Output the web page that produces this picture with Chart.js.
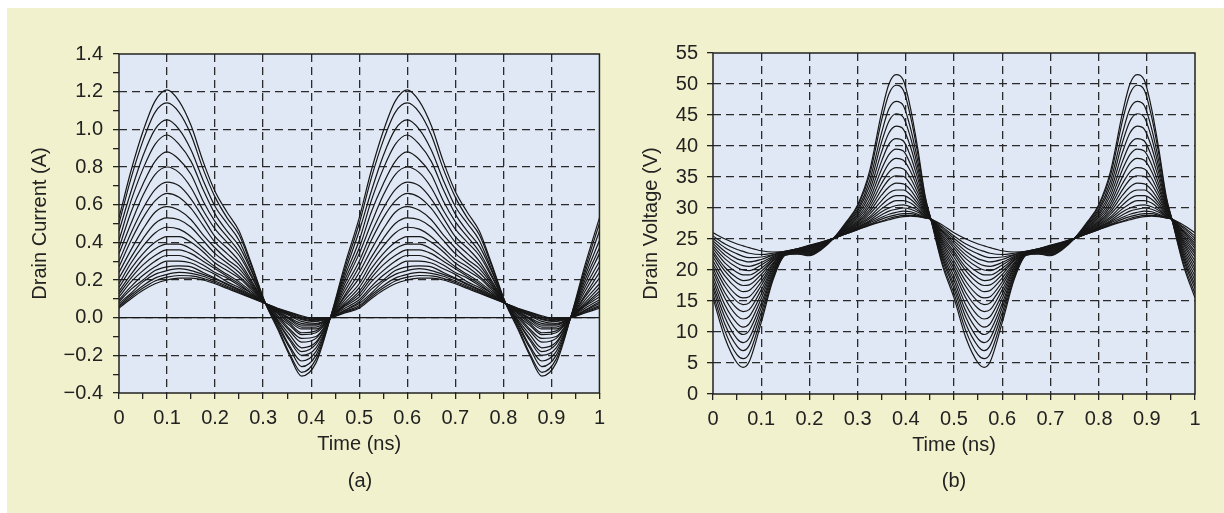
<!DOCTYPE html>
<html>
<head>
<meta charset="utf-8">
<title>Drain current and drain voltage</title>
<script src="https://cdn.jsdelivr.net/npm/chart.js@4"></script>
<style>
  body { margin: 0; width: 1224px; height: 513px; background: #fff; position: relative; overflow: hidden;
         font-family: "Liberation Sans", Arial, sans-serif; }
  .bg { position: absolute; left: 7px; top: 8px; width: 1217px; height: 505px; background: #f1f1cd; }
  .panel { position: absolute; top: 0; width: 612px; height: 513px; }
  .caption { position: absolute; top: 468px; width: 100px; text-align: center; font-size: 20px;
             line-height: 24px; color: #222; }
</style>
</head>
<body>
<div class="bg"></div>
<div class="panel" style="left:0"><canvas id="chartA" width="612" height="513"></canvas></div>
<div class="panel" style="left:612px"><canvas id="chartB" width="612" height="513"></canvas></div>
<div class="caption" style="left:310px">(a)</div>
<div class="caption" style="left:904px">(b)</div>
<script>
// time axis (ns), shared tick labels
const xTickValues = [0, 0.1, 0.2, 0.3, 0.4, 0.5, 0.6, 0.7, 0.8, 0.9, 1];
const xTickLabels = ["0", "0.1", "0.2", "0.3", "0.4", "0.5", "0.6", "0.7", "0.8", "0.9", "1"];

// (a) drain current
const yTickValuesA = [-0.4, -0.2, 0, 0.2, 0.4, 0.6, 0.8, 1.0, 1.2, 1.4];
const yTickLabelsA = ["\u22120.4", "\u22120.2", "0.0", "0.2", "0.4", "0.6", "0.8", "1.0", "1.2", "1.4"];

// sample times over the whole 0..1 ns window (two periods + end point)
const timesA = [0, 0.025, 0.05, 0.075, 0.1, 0.125, 0.15, 0.175, 0.2, 0.225, 0.25, 0.275, 0.305, 0.33, 0.355, 0.38, 0.41, 0.44, 0.47,
  0.5, 0.525, 0.55, 0.575, 0.6, 0.625, 0.65, 0.675, 0.7, 0.725, 0.75, 0.775, 0.805, 0.83, 0.855, 0.88, 0.91, 0.94, 0.97, 1];

// one 0.5 ns period per trace (A), largest drive first; the waveform is steady state
// so the second period repeats the first
const currentA = [
  [0.53, 0.78, 0.99, 1.15, 1.21, 1.15, 1.02, 0.83, 0.67, 0.56, 0.46, 0.29, 0.075, -0.06, -0.20, -0.31, -0.24, 0, 0.28],
  [0.50, 0.74, 0.94, 1.09, 1.14, 1.09, 0.97, 0.79, 0.64, 0.53, 0.44, 0.28, 0.075, -0.05, -0.19, -0.29, -0.22, 0, 0.26],
  [0.46, 0.67, 0.86, 1.00, 1.05, 1.00, 0.89, 0.73, 0.59, 0.50, 0.41, 0.26, 0.075, -0.04, -0.16, -0.26, -0.20, 0, 0.24],
  [0.41, 0.62, 0.79, 0.92, 0.97, 0.92, 0.83, 0.68, 0.55, 0.46, 0.38, 0.25, 0.075, -0.03, -0.15, -0.23, -0.18, 0, 0.22],
  [0.37, 0.56, 0.71, 0.83, 0.88, 0.84, 0.76, 0.62, 0.51, 0.43, 0.35, 0.23, 0.075, -0.02, -0.12, -0.20, -0.16, 0, 0.20],
  [0.34, 0.50, 0.65, 0.76, 0.80, 0.77, 0.69, 0.57, 0.47, 0.40, 0.33, 0.22, 0.075, -0.02, -0.11, -0.18, -0.14, 0, 0.18],
  [0.30, 0.45, 0.58, 0.68, 0.72, 0.70, 0.63, 0.53, 0.43, 0.37, 0.30, 0.20, 0.075, -0.01, -0.09, -0.16, -0.13, 0, 0.16],
  [0.27, 0.41, 0.53, 0.62, 0.66, 0.64, 0.58, 0.49, 0.40, 0.34, 0.28, 0.19, 0.075, 0.00, -0.07, -0.13, -0.11, 0, 0.14],
  [0.24, 0.36, 0.47, 0.56, 0.59, 0.57, 0.52, 0.44, 0.37, 0.31, 0.26, 0.18, 0.075, 0.01, -0.06, -0.11, -0.10, 0, 0.12],
  [0.21, 0.32, 0.42, 0.50, 0.53, 0.52, 0.48, 0.41, 0.34, 0.29, 0.24, 0.17, 0.075, 0.01, -0.04, -0.09, -0.08, 0, 0.11],
  [0.18, 0.29, 0.38, 0.45, 0.48, 0.47, 0.43, 0.37, 0.31, 0.27, 0.22, 0.16, 0.075, 0.02, -0.03, -0.08, -0.07, 0, 0.095],
  [0.16, 0.26, 0.34, 0.40, 0.43, 0.43, 0.40, 0.35, 0.29, 0.25, 0.21, 0.15, 0.075, 0.025, -0.02, -0.06, -0.06, 0, 0.08],
  [0.14, 0.23, 0.31, 0.365, 0.39, 0.39, 0.365, 0.32, 0.27, 0.23, 0.19, 0.14, 0.075, 0.03, -0.01, -0.05, -0.05, 0, 0.07],
  [0.125, 0.21, 0.28, 0.33, 0.36, 0.36, 0.34, 0.30, 0.26, 0.22, 0.18, 0.13, 0.075, 0.03, -0.005, -0.04, -0.04, 0, 0.065],
  [0.11, 0.19, 0.25, 0.30, 0.33, 0.33, 0.31, 0.28, 0.24, 0.21, 0.17, 0.13, 0.075, 0.035, 0.0, -0.03, -0.035, 0, 0.06],
  [0.095, 0.165, 0.225, 0.27, 0.30, 0.30, 0.29, 0.26, 0.23, 0.19, 0.16, 0.12, 0.075, 0.04, 0.01, -0.02, -0.03, 0, 0.05],
  [0.085, 0.15, 0.20, 0.25, 0.27, 0.275, 0.27, 0.24, 0.21, 0.18, 0.15, 0.12, 0.075, 0.04, 0.015, -0.01, -0.02, 0, 0.04],
  [0.075, 0.13, 0.19, 0.23, 0.25, 0.26, 0.25, 0.23, 0.205, 0.175, 0.145, 0.115, 0.075, 0.044, 0.018, -0.006, -0.017, 0, 0.038],
  [0.064, 0.12, 0.17, 0.21, 0.23, 0.24, 0.235, 0.22, 0.195, 0.167, 0.14, 0.111, 0.075, 0.047, 0.023, 0.0, -0.012, 0, 0.033],
  [0.057, 0.11, 0.157, 0.195, 0.215, 0.224, 0.222, 0.209, 0.187, 0.161, 0.135, 0.108, 0.075, 0.048, 0.027, 0.005, -0.009, 0, 0.029],
  [0.05, 0.10, 0.145, 0.18, 0.20, 0.21, 0.21, 0.20, 0.18, 0.155, 0.13, 0.105, 0.075, 0.05, 0.03, 0.01, -0.005, 0, 0.025]
];
// the flat 0 A trace
const zeroTimes = [0, 1];
const zeroCurrent = [0, 0];

// (b) drain voltage
const yTickValuesB = [0, 5, 10, 15, 20, 25, 30, 35, 40, 45, 50, 55];
const yTickLabelsB = ["0", "5", "10", "15", "20", "25", "30", "35", "40", "45", "50", "55"];

const timesB = [0, 0.025, 0.05, 0.0625, 0.075, 0.1, 0.125, 0.15, 0.175, 0.2, 0.225, 0.25, 0.275, 0.3, 0.325, 0.35, 0.365, 0.38, 0.395, 0.41, 0.425, 0.44, 0.452, 0.475,
  0.5, 0.525, 0.55, 0.5625, 0.575, 0.6, 0.625, 0.65, 0.675, 0.7, 0.725, 0.75, 0.775, 0.8, 0.825, 0.85, 0.865, 0.88, 0.895, 0.91, 0.925, 0.94, 0.952, 0.975, 1];

// one period per trace (V), largest drive first
const voltageB = [
  [15.5, 9.0, 5.0, 4.3, 5.2, 11.5, 18.5, 22.4, 22.6, 22.3, 23.3, 25.1, 27.6, 30.5, 36.0, 45.5, 50.0, 51.5, 50.6, 46.0, 39.5, 32.0, 28.2, 21.0],
  [16.2, 10.1, 6.3, 5.7, 6.5, 12.3, 18.8, 22.4, 22.6, 22.4, 23.4, 25.1, 27.4, 30.2, 35.3, 44.2, 48.4, 49.8, 49.0, 44.7, 38.7, 31.7, 28.2, 21.4],
  [17.0, 11.2, 7.7, 7.0, 7.8, 13.1, 19.1, 22.5, 22.7, 22.5, 23.5, 25.1, 27.3, 29.8, 34.4, 42.2, 46.0, 47.2, 46.5, 42.8, 37.5, 31.3, 28.2, 21.9],
  [17.6, 12.3, 8.9, 8.3, 9.0, 13.9, 19.4, 22.5, 22.8, 22.6, 23.6, 25.1, 27.1, 29.5, 33.6, 40.7, 44.0, 45.2, 44.6, 41.3, 36.5, 31.0, 28.2, 22.3],
  [18.3, 13.3, 10.2, 9.6, 10.2, 14.6, 19.7, 22.6, 22.9, 22.7, 23.7, 25.1, 27.0, 29.1, 32.8, 39.1, 42.1, 43.2, 42.7, 39.8, 35.6, 30.7, 28.2, 22.7],
  [19.0, 14.3, 11.4, 10.8, 11.3, 15.4, 20.0, 22.6, 22.9, 22.8, 23.8, 25.1, 26.8, 28.8, 32.1, 37.6, 40.3, 41.2, 40.8, 38.3, 34.7, 30.4, 28.2, 23.1],
  [19.7, 15.4, 12.6, 12.1, 12.5, 16.1, 20.3, 22.6, 23.0, 22.9, 23.9, 25.1, 26.7, 28.5, 31.4, 36.3, 38.6, 39.5, 39.2, 37.0, 33.8, 30.1, 28.2, 23.5],
  [20.3, 16.3, 13.8, 13.3, 13.6, 16.8, 20.5, 22.7, 23.0, 23.0, 24.0, 25.1, 26.6, 28.2, 30.8, 35.1, 37.2, 38.0, 37.7, 35.9, 33.1, 29.9, 28.2, 23.9],
  [20.9, 17.3, 14.9, 14.4, 14.7, 17.5, 20.8, 22.7, 23.1, 23.1, 24.0, 25.1, 26.5, 27.9, 30.3, 34.0, 35.8, 36.5, 36.3, 34.8, 32.4, 29.7, 28.2, 24.3],
  [21.5, 18.1, 15.9, 15.5, 15.7, 18.1, 21.0, 22.7, 23.1, 23.2, 24.1, 25.1, 26.4, 27.7, 29.8, 33.0, 34.6, 35.2, 35.1, 33.8, 31.8, 29.5, 28.2, 24.6],
  [22.1, 19.0, 17.0, 16.5, 16.7, 18.7, 21.2, 22.8, 23.2, 23.3, 24.1, 25.1, 26.3, 27.5, 29.4, 32.1, 33.4, 34.0, 33.9, 32.9, 31.2, 29.3, 28.2, 24.9],
  [22.6, 19.8, 17.9, 17.5, 17.6, 19.3, 21.5, 22.8, 23.2, 23.4, 24.2, 25.1, 26.2, 27.3, 29.0, 31.2, 32.4, 32.9, 32.9, 32.1, 30.7, 29.1, 28.2, 25.2],
  [23.0, 20.4, 18.7, 18.3, 18.4, 19.8, 21.6, 22.8, 23.3, 23.5, 24.3, 25.1, 26.1, 27.2, 28.6, 30.5, 31.5, 32.0, 32.0, 31.4, 30.3, 29.0, 28.2, 25.5],
  [23.5, 21.1, 19.6, 19.2, 19.2, 20.3, 21.8, 22.9, 23.3, 23.6, 24.3, 25.1, 26.0, 27.0, 28.3, 29.9, 30.7, 31.2, 31.2, 30.8, 29.9, 28.8, 28.2, 25.8],
  [23.9, 21.8, 20.4, 20.0, 19.9, 20.8, 22.0, 22.9, 23.3, 23.7, 24.3, 25.1, 26.0, 26.9, 28.0, 29.4, 30.0, 30.4, 30.5, 30.2, 29.6, 28.7, 28.2, 26.1],
  [24.3, 22.4, 21.1, 20.7, 20.6, 21.2, 22.2, 22.9, 23.3, 23.8, 24.4, 25.1, 25.9, 26.8, 27.8, 28.9, 29.5, 29.8, 30.0, 29.8, 29.3, 28.6, 28.2, 26.3],
  [24.7, 23.0, 21.8, 21.5, 21.3, 21.7, 22.4, 22.9, 23.3, 23.8, 24.4, 25.1, 25.9, 26.7, 27.6, 28.5, 29.0, 29.3, 29.5, 29.4, 29.0, 28.5, 28.2, 26.5],
  [25.1, 23.6, 22.6, 22.2, 22.0, 22.1, 22.5, 23.0, 23.4, 23.9, 24.4, 25.1, 25.8, 26.6, 27.4, 28.2, 28.6, 28.9, 29.1, 29.1, 28.8, 28.5, 28.2, 26.8],
  [25.5, 24.2, 23.3, 23.0, 22.7, 22.5, 22.7, 23.0, 23.4, 23.9, 24.5, 25.1, 25.8, 26.5, 27.3, 27.9, 28.3, 28.6, 28.8, 28.8, 28.7, 28.4, 28.2, 27.0],
  [26.0, 25.0, 24.2, 23.9, 23.6, 23.1, 22.9, 23.0, 23.4, 24.0, 24.5, 25.1, 25.8, 26.5, 27.2, 27.8, 28.1, 28.4, 28.6, 28.7, 28.6, 28.4, 28.2, 27.3]
];

const FONT = "'Liberation Sans', Arial, sans-serif";
const TEXT = "#222";
const LINE = "#171717";
const GRID = "#2a2a2a";
const PLOT_BG = "#e0e8f5";

function findTick(v, values) {
  return values.findIndex((t) => Math.abs(t - v) < 1e-6);
}

// Function to turn a period row into chart points over 0..1 ns
function traceDataset(times, row) {
  const values = row.concat(row, [row[0]]);
  return {
    data: values.map((y, i) => ({ x: times[i], y: y })),
    borderColor: LINE,
    borderWidth: 1.2,
    pointRadius: 0,
    fill: false,
    cubicInterpolationMode: "monotone",
  };
}

// plot background and solid frame
const framePlugin = {
  id: "frame",
  beforeDraw(chart) {
    const { ctx, chartArea: a } = chart;
    ctx.save();
    ctx.fillStyle = PLOT_BG;
    ctx.fillRect(a.left, a.top, a.right - a.left, a.bottom - a.top);
    ctx.restore();
  },
  afterDraw(chart) {
    const { ctx, chartArea: a } = chart;
    ctx.save();
    ctx.strokeStyle = TEXT;
    ctx.lineWidth = 1.5;
    ctx.strokeRect(a.left, a.top, a.right - a.left, a.bottom - a.top);
    ctx.restore();
  },
};

function axisOptions(o) {
  return {
    type: "linear",
    min: o.min,
    max: o.max,
    afterFit: o.afterFit,
    title: {
      display: true,
      text: o.title,
      color: TEXT,
      font: { family: FONT, size: 20 },
      padding: 0,
    },
    ticks: {
      stepSize: o.step,
      autoSkip: false,
      maxRotation: 0,
      padding: o.tickPadding,
      color: TEXT,
      font: { family: FONT, size: 20 },
      callback: (v) => {
        const i = findTick(v, o.tickValues);
        return i < 0 ? "" : o.tickLabels[i];
      },
    },
    grid: {
      lineWidth: 1.3,
      tickLength: 6,
      tickWidth: 1.3,
      tickColor: TEXT,
      color: (ctx) => {
        const v = ctx.tick ? ctx.tick.value : null;
        if (v === null) return "rgba(0,0,0,0)";
        const inside = v > o.min + 1e-6 && v < o.max - 1e-6;
        return inside && findTick(v, o.tickValues) >= 0 ? GRID : "rgba(0,0,0,0)";
      },
    },
    border: { display: false, dash: [8, 5] },
  };
}

function makeChart(id, datasets, xAxis, yAxis, padding) {
  return new Chart(document.getElementById(id), {
    type: "line",
    data: { datasets: datasets },
    options: {
      responsive: false,
      animation: false,
      devicePixelRatio: 1,
      events: [],
      layout: { padding: padding },
      plugins: { legend: { display: false }, tooltip: { enabled: false } },
      scales: { x: axisOptions(xAxis), y: axisOptions(yAxis) },
    },
    plugins: [framePlugin],
  });
}

// (a)
const datasetsA = currentA.map((row) => traceDataset(timesA, row));
datasetsA.push({
  data: zeroTimes.map((x, i) => ({ x: x, y: zeroCurrent[i] })),
  borderColor: LINE,
  borderWidth: 1.4,
  pointRadius: 0,
});

makeChart(
  "chartA",
  datasetsA,
  {
    min: 0, max: 1, step: 0.05, title: "Time (ns)", tickPadding: 7,
    tickValues: xTickValues, tickLabels: xTickLabels,
    afterFit: (s) => { s.height = 63; },
  },
  {
    min: -0.4, max: 1.4, step: 0.1, title: "Drain Current (A)", tickPadding: 10,
    tickValues: yTickValuesA, tickLabels: yTickLabelsA,
    afterFit: (s) => { s.width = 91; },
  },
  { left: 28, top: 54, right: 12, bottom: 57 }
);

// (b)
const datasetsB = voltageB.map((row) => traceDataset(timesB, row));

makeChart(
  "chartB",
  datasetsB,
  {
    min: 0, max: 1, step: 0.05, title: "Time (ns)", tickPadding: 7,
    tickValues: xTickValues, tickLabels: xTickLabels,
    afterFit: (s) => { s.height = 63; },
  },
  {
    min: 0, max: 55, step: 5, title: "Drain Voltage (V)", tickPadding: 9,
    tickValues: yTickValuesB, tickLabels: yTickLabelsB,
    afterFit: (s) => { s.width = 74; },
  },
  { left: 27, top: 53, right: 29, bottom: 56 }
);
</script>
</body>
</html>
